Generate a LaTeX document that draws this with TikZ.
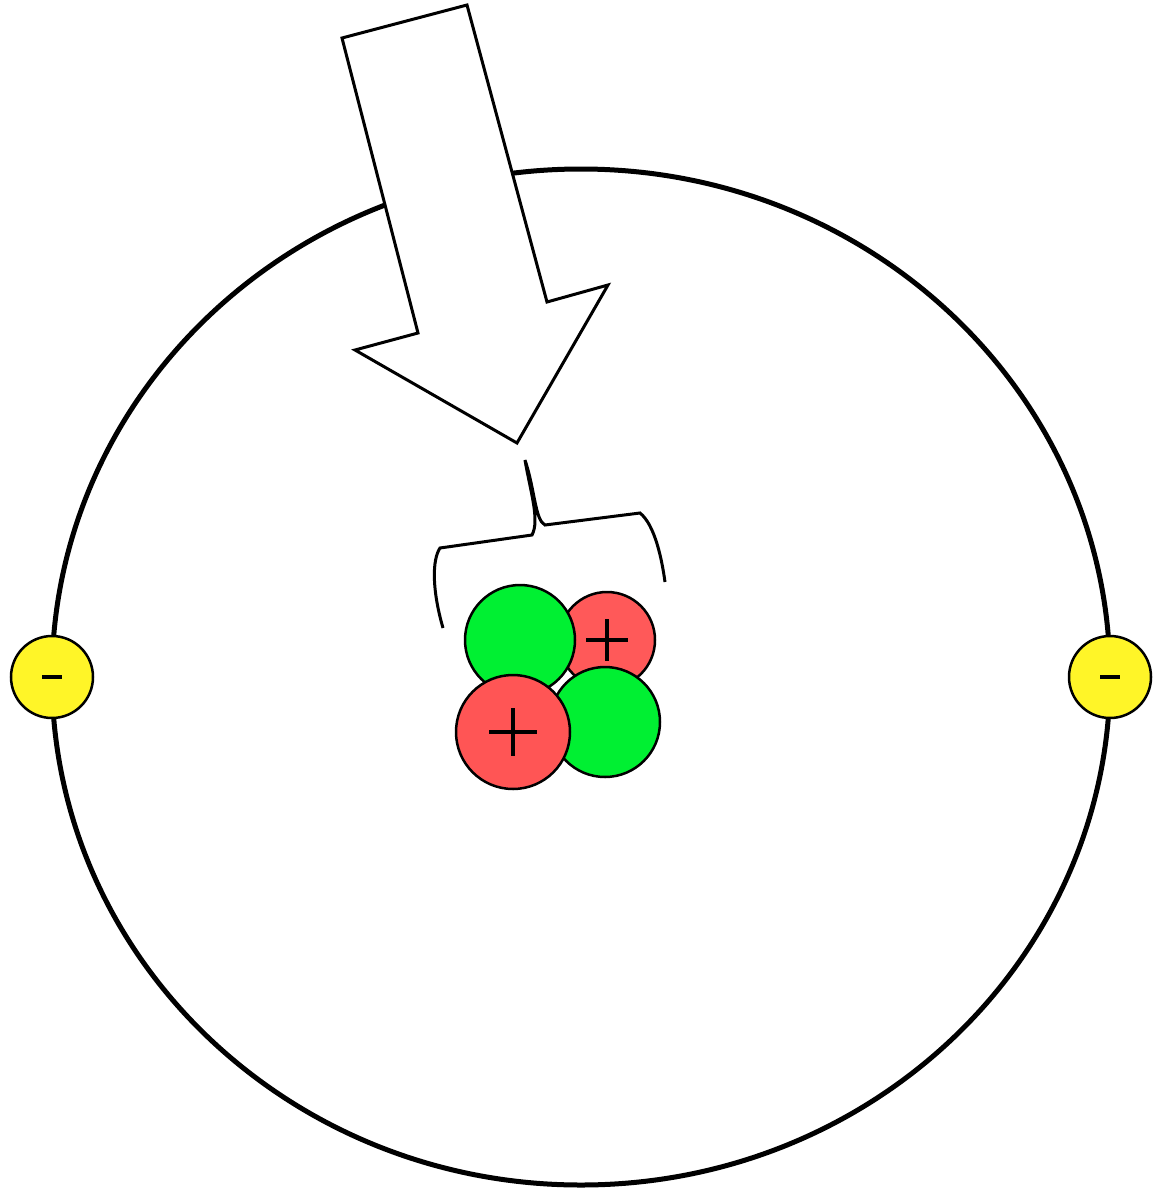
\documentclass[tikz,border=0pt]{standalone}
\begin{document}
\begin{tikzpicture}[x=1pt,y=-1pt,
  ball/.style={draw=black,line width=2.5pt,circle,inner sep=0pt},
  sign/.style={font=\fontsize{60}{60}\selectfont\sffamily}]
\useasboundingbox (0,0) rectangle (1164,1200);
\draw[line width=5pt] (581,677) ellipse [x radius=529, y radius=508];
\draw[line width=3pt,fill=white,line join=miter] (342,38)--(467,5)--(547,302)--(608,285)--(517,443)--(355,350)--(418,333)--cycle;
\draw[line width=3pt] (443,628) .. controls (432,590) and (432,560) .. (440,548) -- (532,535) .. controls (540,520) and (530,490) .. (525,460) .. controls (535,490) and (535,520) .. (545,525) -- (640,513) .. controls (655,525) and (662,560) .. (665,582);
\node[ball,fill=red!65!white,minimum size=96pt] (r1) at (607,640) {};
\node[ball,fill=green!90!black!60!green,fill={rgb,255:red,0;green,240;blue,50},minimum size=110pt] (g1) at (520,640) {};
\node[ball,fill={rgb,255:red,0;green,240;blue,50},minimum size=110pt] (g2) at (605,722) {};
\node[ball,fill={rgb,255:red,255;green,85;blue,85},minimum size=114pt] (r2) at (513,732) {};
\fill[white] (r1.center) ++(-200,-200) rectangle ++(0,0);
\draw[line width=4pt] (r1.center)++(-21,0)--++(42,0) (r1.center)++(0,-21)--++(0,42);
\draw[line width=4pt] (r2.center)++(-24,0)--++(48,0) (r2.center)++(0,-24)--++(0,48);
\node[ball,fill={rgb,255:red,255;green,245;blue,40},minimum size=82pt] (e1) at (52,677) {};
\node[ball,fill={rgb,255:red,255;green,245;blue,40},minimum size=82pt] (e2) at (1110,677) {};
\draw[line width=4pt] (e1.center)++(-10,0)--++(20,0);
\draw[line width=4pt] (e2.center)++(-10,0)--++(20,0);
\end{tikzpicture}
\end{document}
